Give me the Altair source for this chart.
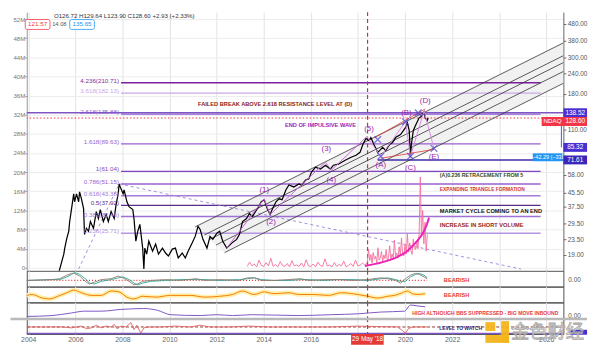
import glob
import altair as alt
import pandas as pd

# ---------------------------------------------------------------- fonts
def _font_present(stem):
    for root in ("/usr/share/fonts", "/usr/local/share/fonts", "/root/.fonts", "/root/.local/share/fonts"):
        if glob.glob(f"{root}/**/{stem}*", recursive=True):
            return True
    return False

if _font_present("LiberationSansNarrow-Bold"):
    ANN_FONT, K = "Liberation Sans Narrow", 1.0
else:
    ANN_FONT, K = "Liberation Sans", 0.82

# ---------------------------------------------------------------- data
YEAR_TICKS = list(range(2004, 2027, 2))
VOL_TICKS = list(range(0, 53, 4))
PRICE_TICKS = [19, 23.5, 29.5, 37.5, 45.5, 58, 110, 180, 240, 300, 380, 480]

PRICE_YEARS = [2005.26, 2005.51, 2005.55, 2005.64, 2005.72, 2005.76, 2005.84, 2005.93, 2005.97, 2006.05,
               2006.14, 2006.18, 2006.26, 2006.35, 2006.39, 2006.47, 2006.56, 2006.64, 2006.77, 2006.89,
               2006.98, 2007.06, 2007.19, 2007.31, 2007.40, 2007.52, 2007.65, 2007.73, 2007.82, 2007.86,
               2007.94, 2008.03, 2008.07, 2008.19, 2008.28, 2008.44, 2008.49, 2008.57, 2008.65, 2008.74,
               2008.86, 2008.91, 2008.95, 2009.03, 2009.12, 2009.28, 2009.41, 2009.53, 2009.70, 2009.83,
               2009.95, 2010.12, 2010.25, 2010.37, 2010.54, 2010.67, 2010.79, 2010.96, 2011.09, 2011.21,
               2011.30, 2011.42, 2011.59, 2011.72, 2011.84, 2012.01, 2012.13, 2012.26, 2012.43, 2012.64,
               2012.85, 2012.97, 2013.10, 2013.27, 2013.39, 2013.52, 2013.73, 2013.90, 2014.02, 2014.15,
               2014.27, 2014.36, 2014.52, 2014.65, 2014.78, 2014.94, 2015.07, 2015.28, 2015.49, 2015.61,
               2015.78, 2015.91, 2016.03, 2016.20, 2016.41, 2016.62, 2016.83, 2016.96, 2017.17, 2017.46,
               2017.71, 2017.92, 2018.09, 2018.21, 2018.34, 2018.47, 2018.55, 2018.68, 2018.84, 2018.93,
               2019.05, 2019.18, 2019.35, 2019.47, 2019.60, 2019.81, 2020.02, 2020.10, 2020.18, 2020.23,
               2020.27, 2020.35, 2020.44, 2020.60, 2020.73, 2020.81, 2020.86, 2020.94, 2020.98]
PRICE_CLOSE = [14.2, 19.2, 20.9, 24.0, 26.4, 30.3, 36.3, 44.6, 39.9, 44.6,
               39.9, 45.8, 41.6, 36.3, 25.3, 27.5, 26.4, 30.3, 27.5, 34.8,
               31.6, 35.8, 30.3, 33.4, 30.3, 34.8, 31.6, 38.3, 44.6, 51.2,
               47.8, 44.6, 47.1, 39.9, 37.3, 35.8, 31.6, 23.0, 26.4, 29.1,
               20.9, 15.6, 20.9, 19.2, 23.0, 20.0, 22.1, 19.2, 20.9, 19.5,
               18.7, 20.6, 20.9, 18.2, 19.5, 18.2, 20.0, 22.4, 24.6, 28.3,
               27.1, 23.6, 20.9, 24.6, 23.6, 25.7, 26.4, 23.0, 20.9, 22.4,
               23.6, 25.3, 30.3, 31.6, 33.9, 32.5, 36.3, 39.9, 41.1, 36.3,
               33.4, 35.8, 39.9, 41.6, 41.1, 47.1, 50.5, 49.1, 51.2, 50.5,
               54.1, 54.9, 60.4, 64.7, 63.0, 66.5, 63.0, 66.5, 67.5, 71.3,
               74.3, 76.4, 79.6, 88.9, 96.6, 93.9, 97.9, 88.9, 79.6, 81.8,
               85.3, 81.8, 88.9, 91.4, 97.9, 102.0, 112.4, 120.4, 107.8, 74.3,
               88.9, 107.8, 115.5, 129.0, 132.6, 140.1, 129.0, 123.8, 128.6]

# short volume (millions), left axis
VOL_YEARS = [round(2013.3 + 0.1 * i, 2) for i in range(51)] + [round(2018.4 + 0.05 * i, 2) for i in range(52)]
VOL_VALUES = [0.3, 1.2, 0.4, 0.8, 0.2, 1.6, 0.5, 0.3, 1.1, 0.4, 2.0, 0.3, 0.7, 0.2, 1.3, 0.5, 0.3, 0.9, 0.2, 1.5,
              0.4, 0.6, 0.3, 1.0, 0.2, 1.7, 0.4, 0.3, 0.8, 0.2, 1.2, 0.5, 0.3, 1.9, 0.4, 0.6, 0.2, 1.1, 0.3, 0.7,
              0.4, 1.4, 0.2, 0.5, 0.9, 0.3, 1.6, 0.4, 0.6, 1.0, 0.5,
              1.2, 3.9, 1.5, 2.8, 1.0, 3.2, 1.8, 2.4, 1.1, 4.2, 1.6, 2.0, 3.4, 1.3, 2.7, 1.9, 3.8, 1.4, 2.2, 4.6,
              1.8, 2.9, 2.1, 5.8, 2.4, 3.1, 2.0, 4.4, 2.6, 6.2, 3.0, 2.5, 4.8, 2.9, 7.1, 3.3, 5.2, 3.6, 2.8, 6.0,
              4.2, 3.8, 5.5, 4.0, 7.2, 19.0, 6.5, 12.0, 5.0, 9.5, 3.5, 7.0]
VOL_TREND_YEARS = [2018.30, 2019.05, 2019.68, 2020.10, 2020.44, 2020.73, 2020.90, 2021.02]
VOL_TREND = [0.4, 1.2, 2.3, 3.5, 5.2, 7.0, 8.7, 10.5]

# fibonacci levels
FIB_LEVELS = ["4.236", "3.618", "2.618", "1.618", "1", "0.786", "0.618", "0.5", "0.382", "0.236"]
FIB_PRICES = [210.71, 182.13, 135.88, 89.63, 61.04, 51.15, 43.38, 37.92, 32.46, 25.71]
FIB_START, FIB_END = 2007.94, 2025.76

RES_LINE = 138.52
LAST_CLOSE = 128.60
SUPPORT_LINE = 71.61
SUPPORT_FROM = 2018.84
E_LEVEL = 85.32
MARK_DATE = 2018.41

# channel (parallel lines)
CH_START_YEARS = [2011.09, 2011.48, 2011.70, 2011.97, 2012.34]
CH_START_PRICES = [28.10, 25.10, 23.58, 21.80, 19.63]
CH_END_YEAR = 2026.73
CH_END_PRICES = [368.0, 307.6, 279.3, 246.7, 209.1]
CH_BAND_YEARS = [2011.09, 2012.34, 2026.73]
CH_BAND_HIGH = [28.10, 34.56, 368.0]
CH_BAND_LOW = [28.10, 19.63, 209.1]

TREND_YEARS = [2007.86, 2024.92]
TREND_PRICES = [51.2, 15.6]
DIAG_YEARS = [2006.14, 2007.86]
DIAG_PRICES = [15.6, 51.2]

IMPULSE_YEARS = [2012.43, 2014.02, 2014.27, 2016.62, 2016.87, 2018.38]
IMPULSE_PRICES = [20.9, 41.6, 33.4, 69.4, 62.1, 99.3]
CORR_YEARS = [2018.38, 2018.97, 2020.02, 2020.23, 2020.81, 2021.23]
CORR_PRICES = [99.3, 75.3, 122.1, 75.3, 142.1, 84.1]
CROSS_YEARS = [2018.84, 2018.97, 2020.02, 2020.23, 2020.56, 2021.23]
CROSS_PRICES = [95.2, 75.3, 122.1, 75.3, 138.2, 84.1]
TRI_UPPER_YEARS, TRI_UPPER = [2018.72, 2020.86], [97.9, 146.1]
TRI_LOWER_YEARS, TRI_LOWER = [2018.97, 2021.23], [73.3, 83.0]

WAVE_LABELS = ["(1)", "(2)", "(3)", "(4)", "(5)", "(A)", "(B)", "(C)", "(D)", "(E)"]
WAVE_LABEL_YEARS = [2014.02, 2014.31, 2016.66, 2016.87, 2018.47, 2018.97, 2020.06, 2020.23, 2020.86, 2021.23]
WAVE_LABEL_PRICES = [47.1, 29.9, 83.0, 54.1, 110.9, 66.5, 138.2, 63.8, 163.1, 74.3]

ANN_TEXTS = ["FAILED BREAK ABOVE 2.618 RESISTANCE LEVEL AT (D)", "END OF IMPULSIVE WAVE",
             "(A)0.236 RETRACEMENT FROM 5", "EXPANDING TRIANGLE FORMATION",
             "MARKET CYCLE COMING TO AN END", "INCREASE IN SHORT VOLUME"]
ANN_YEARS = [2011.21, 2014.90, 2021.48, 2021.48, 2021.48, 2021.48]
ANN_PRICES = [156.5, 117.1, 57.9, 46.8, 35.3, 28.9]

HEADER_OHLC = "O126.72 H129.64 L123.90 C128.60 +2.93 (+2.33%)"
HEADER_VALUES = ["121.57", "14.08", "135.65"]
MEASURE_TEXT = "\u221242.29 (\u221233."
MEASURE_PRICE = 74.3

# indicator panes
P1_YEARS = [2003.94, 2005.01, 2005.34, 2005.64, 2005.84, 2005.97, 2006.18, 2006.47, 2006.60, 2006.81,
            2007.10, 2007.52, 2007.82, 2008.03, 2008.28, 2008.49, 2008.65, 2008.86, 2009.20, 2009.83,
            2010.46, 2011.13, 2011.51, 2012.13, 2012.97, 2013.31, 2013.60, 2013.90, 2014.44, 2015.07,
            2015.57, 2015.91, 2016.54, 2017.17, 2017.79, 2018.42, 2018.97, 2019.26, 2019.60, 2019.81,
            2020.02, 2020.23, 2020.44, 2020.60, 2020.81, 2020.94]
P1_MAIN = [0, .1, .2, .6, .8, .8, .5, -.2, -.4, -.2, .1, .2, .5, .3, -.1, -.5, -.4, -.1, 0, .1,
           0, .2, 0, .1, 0, .3, .3, 0, 0, .1, .2, 0, .1, .1, 0, .1, .3, .2, 0, -.3,
           .2, .6, .8, .7, .4, .2]
P1_SIGNAL = [0, .1, .1, .4, .7, .9, .7, .1, -.3, -.4, -.1, .1, .3, .4, .1, -.3, -.5, -.3, -.1, 0,
             .1, .1, .1, 0, .1, .2, .3, .1, 0, 0, .1, .1, 0, .1, .1, 0, .2, .3, .1, -.1,
             -.1, .4, .7, .8, .6, .3]
P2_YEARS = [2003.94, 2004.17, 2004.59, 2004.92, 2005.26, 2005.64, 2005.93, 2006.26, 2006.68, 2007.10,
            2007.52, 2007.86, 2008.19, 2008.49, 2008.86, 2009.41, 2010.04, 2010.88, 2011.51, 2012.13,
            2012.68, 2013.10, 2013.60, 2014.02, 2014.44, 2015.07, 2015.49, 2016.12, 2016.75, 2017.29,
            2018.00, 2018.42, 2018.84, 2019.26, 2019.56, 2019.89, 2020.10, 2020.31, 2020.52, 2020.86]
P2_VALUES = [-.1, 0, -.4, -.5, -.2, .2, .5, .2, -.1, -.1, .4, .3, -.3, -.5, -.2, -.3, -.1, -.1, -.3, -.2,
             0, .4, 0, .3, .1, .2, 0, 0, -.1, .2, 0, -.2, -.4, -.2, -.1, .2, .4, .1, 0, .1]
P3_YEARS = [2003.94, 2005.01, 2005.84, 2006.39, 2007.10, 2007.94, 2008.91, 2009.49, 2010.04, 2011.30,
            2012.01, 2012.68, 2013.52, 2015.49, 2016.87, 2018.00, 2018.97, 2019.98, 2020.23, 2020.52, 2020.86]
P3_VALUES = [-.4, -.3, 0, .2, .2, .4, .5, .3, -.2, -.3, -.2, -.3, -.2, -.3, -.2, -.1, .1, .2, .9, .8, .7]
P4_YEARS = [2003.94, 2005.43, 2005.84, 2006.26, 2006.47, 2006.68, 2006.89, 2007.10, 2007.31, 2007.52,
            2007.65, 2007.77, 2007.94, 2008.15, 2008.36, 2008.49, 2008.61, 2008.78, 2008.91, 2009.12,
            2009.62, 2010.25, 2010.88, 2011.30, 2011.72, 2012.55, 2013.39, 2014.23, 2015.49, 2016.75,
            2018.00, 2019.68, 2019.89, 2020.02, 2020.14, 2020.31, 2020.94]
P4_VALUES = [0, 0, -.2, .2, -.4, -.2, .4, -.2, .2, 0, .6, -.4, .2, 0, 1.0, -.6, .4, -1.4, -.2, 0,
             0, .2, 0, .4, 0, 0, .2, 0, 0, 0, .2, 0, -.8, -1.4, -.4, 0, 0]
P4_LEVEL = -1.5
PANEL_NOTES = ["BEARISH", "BEARISH", "HIGH ALTHOUGH BBS SUPPRESSED - BIG MOVE INBOUND", "LEVEL TO WATCH"]

# ---------------------------------------------------------------- styles / layout
FIB_COLORS = ["#7b1fa2", "#c9a8e8", "#8e5bd8", "#9a5fd0", "#8045c0", "#9a5fd0", "#a57ad8", "#5a2d8c",
              "#9d72d4", "#b596e2"]
ANN_COLORS = ["#8b1a1a", "#a21caf", "#3a4a22", "#d32f2f", "#111111", "#9b1c1c"]
ANN_SIZES = [7 * K, 7 * K, 6.5 * K, 6 * K, 7 * K, 7 * K]
ORIGIN = 24.5                     # page x of the plot's left edge
W, HM, HP = 543.5, 262, 16


def px(page_x):
    return page_x - ORIGIN


X_SCALE = alt.Scale(domain=[2003.937, 2026.725], nice=False, zero=False)
PRICE_SCALE = alt.Scale(type="log", domain=[15.21, 564.9], nice=False)
VOL_SCALE = alt.Scale(domain=[-0.62, 53.45], nice=False, zero=False)

AXG = alt.Axis(values=YEAR_TICKS, grid=True, gridColor="#e3e3e3", labels=False, ticks=False,
               domain=False, title=None)
AXB = alt.Axis(values=YEAR_TICKS, grid=True, gridColor="#e3e3e3", labels=True, ticks=False,
               domain=False, title=None, format="d", labelFontSize=7, labelColor="#666",
               labelPadding=2, labelFlush=False,
               labelExpr="datum.value == 2018 ? '' : datum.label")
AX_VOL = alt.Axis(orient="left", values=VOL_TICKS, grid=True, gridColor="#ececec",
                  labelExpr="datum.value == 0 ? '0' : datum.value + 'M'", labelFontSize=6.2,
                  labelColor="#777", tickSize=2, tickColor="#999", domainColor="#999",
                  labelPadding=0, title=None)
AX_PRICE = alt.Axis(orient="right", values=PRICE_TICKS, format=".2f", labelFontSize=6.5,
                    labelColor="#555", tickSize=2.5, tickColor="#666", domainColor="#666",
                    labelPadding=1.5, grid=False, title=None)


def base(data):
    return alt.Chart(pd.DataFrame(data))


def xq(axis=AXG):
    return alt.X("year:Q", scale=X_SCALE, axis=axis)


YP0 = alt.Y("price:Q", scale=PRICE_SCALE, axis=None)
YP = alt.Y("price:Q", scale=PRICE_SCALE, axis=AX_PRICE)
YV = alt.Y("vol:Q", scale=VOL_SCALE, axis=AX_VOL)


def nocol(f):
    return alt.Color(f, scale=None)


# ---------------------------------------------------------------- main pane
dashed = {"year": TREND_YEARS + DIAG_YEARS, "price": TREND_PRICES + DIAG_PRICES,
          "seg": ["t", "t", "d", "d"]}
bg = alt.layer(
    base({"year": CH_BAND_YEARS, "price": CH_BAND_HIGH, "price2": CH_BAND_LOW})
    .mark_area(color="#efefef", opacity=0.9, clip=True)
    .encode(x=xq(), y=YP0, y2=alt.Y2("price2")),
    base({"year": [FIB_START] * len(FIB_PRICES), "year2": [FIB_END] * len(FIB_PRICES),
          "price": FIB_PRICES, "c": FIB_COLORS})
    .mark_rule(strokeWidth=1.4)
    .encode(x=xq(), x2=alt.X2("year2"), y=YP0, color=nocol("c:N")),
    base({"price": [RES_LINE]}).mark_rule(color="#7e57c2", strokeWidth=1.6).encode(y=YP0),
    base({"price": [LAST_CLOSE]}).mark_rule(color="#f23645", strokeDash=[1.5, 2], strokeWidth=1).encode(y=YP0),
    base({"year": [SUPPORT_FROM], "price": [SUPPORT_LINE]})
    .mark_rule(color="#3b2ca8", strokeWidth=1.6)
    .encode(x=xq(), x2=alt.value(W), y=YP0),
    base(dashed).mark_line(color="#a08de0", strokeDash=[3, 3], strokeWidth=1, clip=True)
    .encode(x=xq(), y=YP0, detail="seg:N"),
    base({"year": [MARK_DATE]}).mark_rule(color="#d32f2f", strokeDash=[4, 3], strokeWidth=1.2).encode(x=xq()),
)

vol = alt.layer(
    base({"year": VOL_YEARS, "vol": VOL_VALUES}).mark_line(color="#f56d9c", strokeWidth=0.9)
    .encode(x=xq(), y=YV),
    base({"year": VOL_TREND_YEARS, "vol": VOL_TREND})
    .mark_line(color="#ec23b4", strokeWidth=2, interpolate="monotone")
    .encode(x=xq(), y=YV),
)

ch_rows = {"year": [], "price": [], "seg": []}
for i, (sy, sp, ep) in enumerate(zip(CH_START_YEARS, CH_START_PRICES, CH_END_PRICES)):
    ch_rows["year"] += [sy, CH_END_YEAR]
    ch_rows["price"] += [sp, ep]
    ch_rows["seg"] += [i, i]

tri = {"year": TRI_UPPER_YEARS + TRI_LOWER_YEARS, "price": TRI_UPPER + TRI_LOWER, "seg": ["u", "u", "l", "l"]}
fib_lab = {"year": [FIB_START] * len(FIB_PRICES), "price": FIB_PRICES, "c": FIB_COLORS,
           "label": [f"{l}({p:.2f})" for l, p in zip(FIB_LEVELS, FIB_PRICES)]}
ann = {"year": ANN_YEARS, "price": ANN_PRICES, "text": ANN_TEXTS, "c": ANN_COLORS, "fs": ANN_SIZES}
box_prices = [RES_LINE, E_LEVEL, SUPPORT_LINE]
box = {"price": box_prices, "label": [f"{p:.2f}" for p in box_prices],
       "c": ["#4a2fd0", "#4a2fd0", "#3a26b8"]}
one = {"k": [0]}

fg = alt.layer(
    base(ch_rows).mark_line(color="#333", strokeWidth=0.8, clip=True)
    .encode(x=xq(), y=YP, detail="seg:N"),
    base({"year": PRICE_YEARS, "price": PRICE_CLOSE}).mark_line(color="#000", strokeWidth=1.25, clip=True)
    .encode(x=xq(), y=YP),
    base({"year": IMPULSE_YEARS, "price": IMPULSE_PRICES}).mark_line(color="#cc66dd", strokeWidth=1)
    .encode(x=xq(), y=YP),
    base({"year": CORR_YEARS, "price": CORR_PRICES}).mark_line(color="#d98be8", strokeWidth=1)
    .encode(x=xq(), y=YP),
    base(tri).mark_line(color="#e53935", strokeWidth=0.8).encode(x=xq(), y=YP, detail="seg:N"),
    base({"year": CROSS_YEARS, "price": CROSS_PRICES})
    .mark_point(shape="M-1,-1L1,1M1,-1L-1,1", size=45, strokeWidth=1.3, color="#4a3fd8", filled=False)
    .encode(x=xq(), y=YP),
    base({"year": WAVE_LABEL_YEARS, "price": WAVE_LABEL_PRICES, "t": WAVE_LABELS})
    .mark_text(fontSize=8, color="#9c27b0", baseline="middle")
    .encode(x=xq(), y=YP, text="t:N"),
    base(fib_lab).mark_text(align="right", baseline="bottom", dx=-2, dy=1, fontSize=6.3)
    .encode(x=xq(), y=YP, text="label:N", color=nocol("c:N")),
    base(ann).mark_text(align="left", baseline="middle", font=ANN_FONT, fontWeight="bold")
    .encode(x=xq(), y=YP, text="text:N", color=nocol("c:N"), size=alt.Size("fs:Q", scale=None)),
    # price scale tags
    base({"price": [LAST_CLOSE], "price2": [E_LEVEL]}).mark_rule(color="#2962ff", strokeWidth=1)
    .encode(x=alt.value(W - 2), y=YP, y2=alt.Y2("price2")),
    base(box).mark_rule(strokeWidth=9, strokeCap="butt")
    .encode(x=alt.value(W), x2=alt.value(W + 24), y=YP, color=nocol("c:N")),
    base(box).mark_text(color="white", fontSize=6.5, baseline="middle")
    .encode(x=alt.value(W + 12), y=YP, text="label:N"),
    base({"price": [LAST_CLOSE]}).mark_rule(strokeWidth=9, strokeCap="butt", color="#f23645", yOffset=3.5)
    .encode(x=alt.value(W - 22), x2=alt.value(W + 24), y=YP),
    base({"price": [LAST_CLOSE]}).mark_text(text="NDAQ", color="white", fontSize=6.3, dy=3.5, baseline="middle")
    .encode(x=alt.value(W - 11), y=YP),
    base({"price": [LAST_CLOSE]}).mark_text(text=f"{LAST_CLOSE:.2f}", color="white", fontSize=6.5, dy=3.5,
                                            baseline="middle")
    .encode(x=alt.value(W + 12), y=YP),
    base({"price": [MEASURE_PRICE]}).mark_rule(strokeWidth=8, strokeCap="butt", color="#2196f3")
    .encode(x=alt.value(W - 31), x2=alt.value(W - 1), y=YP),
    base({"price": [MEASURE_PRICE]}).mark_text(text=MEASURE_TEXT, color="white", fontSize=5.5, baseline="middle")
    .encode(x=alt.value(W - 16), y=YP),
    # header legend
    base(one).mark_text(text=HEADER_OHLC, align="left", baseline="middle", fontSize=6.2, color="#333")
    .encode(x=alt.value(px(52)), y=alt.value(4)),
    base(one).mark_rect(fill="white", stroke="#f23645", strokeWidth=0.8, cornerRadius=2)
    .encode(x=alt.value(px(23)), x2=alt.value(px(48)), y=alt.value(7.5), y2=alt.value(17.5)),
    base(one).mark_text(text=HEADER_VALUES[0], color="#f23645", fontSize=6.3, baseline="middle")
    .encode(x=alt.value(px(35.5)), y=alt.value(12.5)),
    base(one).mark_text(text=HEADER_VALUES[1], color="#555", fontSize=5.8, baseline="middle")
    .encode(x=alt.value(px(57.5)), y=alt.value(12.5)),
    base(one).mark_rect(fill="white", stroke="#2196f3", strokeWidth=0.8, cornerRadius=2)
    .encode(x=alt.value(px(68)), x2=alt.value(px(93)), y=alt.value(7.5), y2=alt.value(17.5)),
    base(one).mark_text(text=HEADER_VALUES[2], color="#2196f3", fontSize=6.3, baseline="middle")
    .encode(x=alt.value(px(80.5)), y=alt.value(12.5)),
)

main = alt.layer(bg, vol, fg).resolve_scale(y="independent").properties(
    width=W, height=HM, view=alt.ViewBackground(stroke="transparent"))


# ---------------------------------------------------------------- indicator panes
def panel(layers):
    return alt.layer(*layers).properties(width=W, height=HP,
                                         view=alt.ViewBackground(stroke="#4f4f4f", strokeWidth=1))


def vline(axis=AXG):
    return base({"year": [MARK_DATE]}).mark_rule(color="#d32f2f", strokeDash=[4, 3], strokeWidth=1.2) \
        .encode(x=xq(axis))


def note(text, year, v, y, color, size, axis=AXG):
    return base({"year": [year], "v": [v]}).mark_text(
        text=text, align="left", baseline="middle", font=ANN_FONT, fontWeight="bold",
        color=color, fontSize=size * K).encode(x=xq(axis), y=y)


Y1 = alt.Y("v:Q", scale=alt.Scale(domain=[-0.7, 1.1], nice=False, zero=False), axis=None)
p1 = panel([
    base({"year": [P1_YEARS[0]], "year2": [P1_YEARS[-1]], "v": [0]})
    .mark_rule(color="#e53935", strokeDash=[1, 2], strokeWidth=1.3)
    .encode(x=xq(), x2=alt.X2("year2"), y=Y1),
    base({"year": P1_YEARS, "v": P1_SIGNAL}).mark_line(color="#26a69a", strokeWidth=0.9).encode(x=xq(), y=Y1),
    base({"year": P1_YEARS, "v": P1_MAIN}).mark_line(color="#8d7b70", strokeWidth=0.9).encode(x=xq(), y=Y1),
    vline(),
    note(PANEL_NOTES[0], 2021.65, 0.1, Y1, "#e53935", 7),
    base({"v": [0]}).mark_text(text="0.00", align="left", baseline="middle", fontSize=6.5, color="#555")
    .encode(x=alt.value(W + 5), y=Y1),
])

Y2 = alt.Y("v:Q", scale=alt.Scale(domain=[-0.9, 0.9], nice=False, zero=False), axis=None)
p2 = panel([
    base({"year": P2_YEARS, "v": P2_VALUES}).mark_line(color="#fff0b0", strokeWidth=4.5,
                                                        interpolate="monotone").encode(x=xq(), y=Y2),
    base({"year": P2_YEARS, "v": P2_VALUES}).mark_line(color="#f57c00", strokeWidth=1,
                                                        interpolate="monotone").encode(x=xq(), y=Y2),
    vline(),
    note(PANEL_NOTES[1], 2021.65, -0.1, Y2, "#e53935", 7),
])

Y3 = alt.Y("v:Q", scale=alt.Scale(domain=[-0.6, 1.2], nice=False, zero=False), axis=None)
p3 = panel([
    base({"year": P3_YEARS, "v": P3_VALUES}).mark_line(color="#7e57c2", strokeWidth=1,
                                                        interpolate="monotone").encode(x=xq(), y=Y3),
    vline(),
    note(PANEL_NOTES[2], 2020.31, -0.05, Y3, "#e53935", 6.3),
    base({"v": [-0.3]}).mark_text(text="0.00", align="left", baseline="middle", fontSize=6.5, color="#555")
    .encode(x=alt.value(W + 5), y=Y3),
])

Y4 = alt.Y("v:Q", scale=alt.Scale(domain=[-1.6, 2.0], nice=False, zero=False), axis=None)
p4 = panel([
    base({"v": [0]}).mark_rule(color="#8b3a2a", strokeDash=[3, 2], strokeWidth=1).encode(y=Y4),
    base({"year": P4_YEARS, "v": P4_VALUES}).mark_line(color="#e06060", strokeWidth=0.9).encode(x=xq(AXB), y=Y4),
    base({"v": [P4_LEVEL]}).mark_rule(color="#7e57c2", strokeWidth=1.5).encode(y=Y4),
    vline(AXB),
    note(PANEL_NOTES[3], 2021.45, -0.2, Y4, "#1a237e", 6.1, AXB),
    base({"v": [-1.2]}).mark_rule(color="#4a2fd0", strokeWidth=5, strokeCap="butt")
    .encode(x=alt.value(W + 7), x2=alt.value(W + 24), y=Y4),
    base(one).mark_rule(color="#b9b9b9", strokeWidth=2.6)
    .encode(x=alt.value(-ORIGIN + 8), x2=alt.value(W + 24), y=alt.value(0.8)),
    base(one).mark_rule(color="#e53935", strokeWidth=11, strokeCap="butt")
    .encode(x=alt.value(px(353)), x2=alt.value(px(386)), y=alt.value(HP + 5.5)),
    base({"year": [MARK_DATE]}).mark_text(text="29 May '18", color="white", fontSize=6.5, baseline="middle")
    .encode(x=xq(AXB), y=alt.value(HP + 5.5)),
    # watermark
    base(one).mark_rect(fill="#f2b51c", opacity=0.95)
    .encode(x=alt.value(px(505)), x2=alt.value(px(513)), y=alt.value(3), y2=alt.value(25)),
    base(one).mark_rect(fill="#f2b51c", opacity=0.95)
    .encode(x=alt.value(px(489)), x2=alt.value(px(513)), y=alt.value(17), y2=alt.value(25)),
    base(one).mark_rect(fill="#f2b51c", opacity=0.95)
    .encode(x=alt.value(px(489)), x2=alt.value(px(499)), y=alt.value(4), y2=alt.value(13)),
    base(one).mark_text(text="金色财经", align="left", baseline="middle", font="Noto Sans CJK SC",
                        fontSize=18.5, fill="#f3f3f3", fillOpacity=0.6, stroke="#a5a5a5", strokeWidth=0.8)
    .encode(x=alt.value(px(515)), y=alt.value(14)),
])

chart = alt.vconcat(main, p1, p2, p3, p4, spacing=0, bounds="flush").properties(
    padding={"left": 0, "right": 0, "top": 0, "bottom": 0}
).configure(font="Liberation Sans")

chart.save("out.html", embed_options={"renderer": "svg", "actions": False})
